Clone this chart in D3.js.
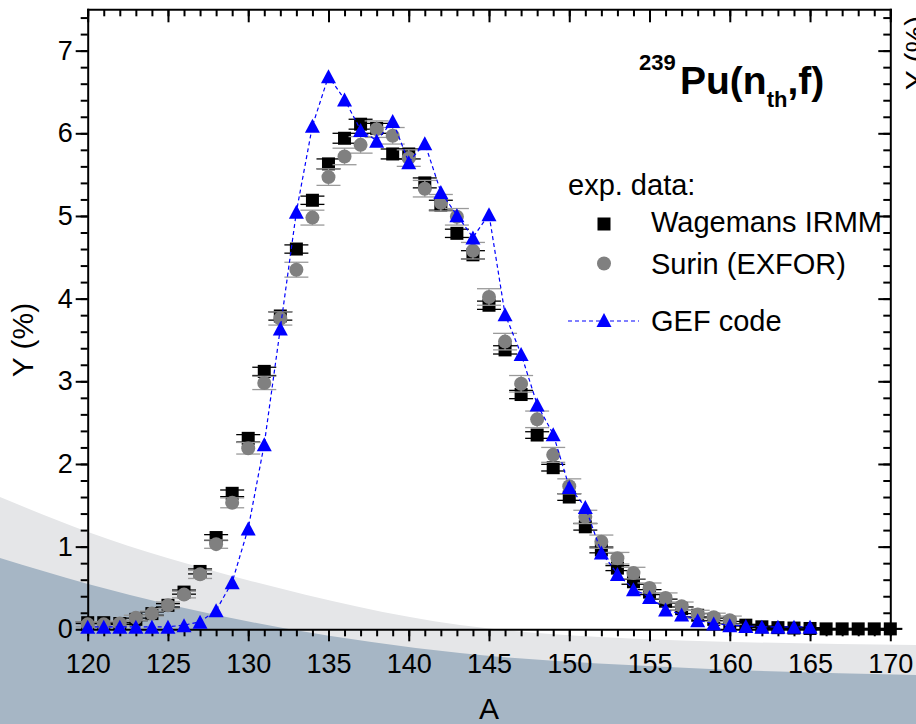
<!DOCTYPE html>
<html>
<head>
<meta charset="utf-8">
<script src="https://cdn.jsdelivr.net/npm/d3@7"></script>
<style>
  body { margin: 0; background: #fff; }
  svg { display: block; font-family: "Liberation Sans", Arial, Helvetica, sans-serif; }
</style>
</head>
<body>
<svg id="chart" width="916" height="724"></svg>
<script>
// Fission fragment mass yields, 239Pu(n_th,f)
const massNumbers = [120,121,122,123,124,125,126,127,128,129,130,131,132,133,134,135,136,137,138,139,140,
                     141,142,143,144,145,146,147,148,149,150,151,152,153,154,155,156,157,158,159,160,
                     161,162,163,164,165,166,167,168,169,170];

// Wagemans IRMM (A = 120..170)
const wagemans = [0.08,0.08,0.07,0.12,0.19,0.29,0.45,0.70,1.11,1.645,2.31,3.12,3.79,4.60,5.19,5.63,5.94,6.11,6.06,5.75,5.75,
                  5.40,5.13,4.79,4.53,3.92,3.38,2.84,2.35,1.955,1.60,1.24,0.96,0.74,0.575,0.45,0.34,0.25,0.17,0.12,0.08,
                  0.05,0.03,0.02,0.015,0.01,0.005,0.005,0.005,0.005,0.005];
const wagemansErr = [0.01,0.01,0.01,0.015,0.02,0.02,0.025,0.03,0.035,0.04,0.045,0.05,0.05,0.05,0.05,0.06,0.06,0.06,0.06,0.06,0.06,
                     0.06,0.06,0.05,0.05,0.05,0.05,0.05,0.04,0.04,0.04,0.04,0.035,0.03,0.03,0.03,0.025,0.02,0.02,0.015,0.015,
                     0.01,0.01,0.01,0.01,0.01,0.005,0.005,0.005,0.005,0.005];

// Surin (EXFOR) (A = 120..160)
const surin = [0.06,0.06,0.07,0.14,0.19,0.29,0.42,0.665,1.03,1.53,2.19,2.98,3.76,4.35,4.98,5.47,5.72,5.86,6.05,5.97,5.70,
               5.33,5.16,4.99,4.58,4.02,3.48,2.97,2.54,2.11,1.73,1.36,1.06,0.86,0.68,0.50,0.38,0.28,0.18,0.145,0.11];
const surinErr = [0.03,0.03,0.03,0.03,0.03,0.04,0.04,0.05,0.05,0.06,0.07,0.08,0.08,0.09,0.09,0.10,0.10,0.10,0.10,0.10,0.10,
                  0.10,0.10,0.10,0.10,0.10,0.10,0.10,0.10,0.09,0.09,0.08,0.08,0.07,0.07,0.06,0.06,0.05,0.05,0.05,0.05];

// GEF code (A = 120..165)
const gef = [0.03,0.03,0.03,0.03,0.03,0.03,0.05,0.09,0.23,0.57,1.22,2.24,3.64,5.05,6.09,6.69,6.41,6.04,5.91,6.15,5.65,
             5.88,5.29,5.01,4.74,5.02,3.81,3.33,2.72,2.36,1.72,1.48,0.93,0.67,0.485,0.39,0.24,0.18,0.11,0.07,0.05,
             0.04,0.03,0.03,0.03,0.03];

const xTicks = [120,125,130,135,140,145,150,155,160,165,170];
const yTicks = [0,1,2,3,4,5,6,7];
const legendTitle = "exp. data:";
const legendLabels = ["Wagemans IRMM", "Surin (EXFOR)", "GEF code"];

const W = 916, H = 724;
const margin = { top: 9.3, right: 25.7, bottom: 94.7, left: 87.7 };
const x = d3.scaleLinear().domain([120, 170]).range([margin.left, W - margin.right]);
const y = d3.scaleLinear().domain([0, 7.5]).range([H - margin.bottom, margin.top]);
const svg = d3.select("#chart");

// decorative swoosh behind the lower part of the chart
const swoosh = d3.line().curve(d3.curveMonotoneX);
const lightEdge = [[0,497],[88,532],[247,580],[460,625],[600,637],[916,645]];
const darkEdge  = [[0,558],[88,584],[283,628],[460,653],[689,668],[916,675]];
svg.append("path").attr("d", swoosh(lightEdge) + `L${W},${H}L0,${H}Z`).attr("fill", "#e5e6e8");
svg.append("path").attr("d", swoosh(darkEdge) + `L${W},${H}L0,${H}Z`).attr("fill", "#a6b6c5");

// axes: major + minor ticks on all four sides
const minorX = d3.range(120, 171, 1);
const minorY = d3.range(0, 7.51, 0.2);
function styleAxis(g, keepDomain) {
  g.selectAll("line").attr("stroke", "#000").attr("stroke-width", 2);
  g.select(".domain").attr("stroke", keepDomain ? "#000" : "none").attr("stroke-width", 2).attr("stroke-linecap", "square");
  g.selectAll("text").attr("font-size", 27).attr("fill", "#000").attr("font-family", '"Liberation Sans", Arial, sans-serif');
}
const yBase = y(0), yTop = y(7.5), xLeft = x(120), xRight = x(170);

svg.append("g").attr("transform", `translate(0,${yBase})`)
  .call(d3.axisBottom(x).tickValues(minorX).tickSize(7).tickSizeOuter(0).tickFormat(""))
  .call(g => styleAxis(g, false));
svg.append("g").attr("transform", `translate(0,${yBase})`)
  .call(d3.axisBottom(x).tickValues(xTicks).tickSize(12).tickSizeOuter(0).tickPadding(13).tickFormat(d3.format("d")))
  .call(g => styleAxis(g, true));

svg.append("g").attr("transform", `translate(0,${yTop})`)
  .call(d3.axisBottom(x).tickValues(minorX).tickSize(7).tickSizeOuter(0).tickFormat(""))
  .call(g => styleAxis(g, false));
svg.append("g").attr("transform", `translate(0,${yTop})`)
  .call(d3.axisBottom(x).tickValues(xTicks).tickSize(13).tickSizeOuter(0).tickFormat(""))
  .call(g => styleAxis(g, true));

svg.append("g").attr("transform", `translate(${xLeft},0)`)
  .call(d3.axisLeft(y).tickValues(minorY).tickSize(7).tickSizeOuter(0).tickFormat(""))
  .call(g => styleAxis(g, false));
svg.append("g").attr("transform", `translate(${xLeft},0)`)
  .call(d3.axisLeft(y).tickValues(yTicks).tickSize(12).tickSizeOuter(0).tickPadding(3).tickFormat(d3.format("d")))
  .call(g => styleAxis(g, true));

svg.append("g").attr("transform", `translate(${xRight},0)`)
  .call(d3.axisLeft(y).tickValues(minorY).tickSize(7).tickSizeOuter(0).tickFormat(""))
  .call(g => styleAxis(g, false));
svg.append("g").attr("transform", `translate(${xRight},0)`)
  .call(d3.axisLeft(y).tickValues(yTicks).tickSize(12).tickSizeOuter(0).tickFormat(""))
  .call(g => styleAxis(g, true));

// axis titles
svg.append("text").attr("x", (xLeft + xRight) / 2).attr("y", 719).attr("text-anchor", "middle")
  .attr("font-size", 30).text("A");
svg.append("text").attr("transform", `translate(33,${y(3.5)}) rotate(-90)`).attr("text-anchor", "middle")
  .attr("font-size", 30).text("Y (%)");
// neighbouring panel's axis title, running off the right edge
svg.append("text").attr("transform", "translate(926,53) rotate(-90)").attr("text-anchor", "middle")
  .attr("font-size", 30).text("Y (%)");

// reaction label
const title = svg.append("g").attr("font-weight", "bold").attr("fill", "#000");
title.append("text").attr("x", 639).attr("y", 70).attr("font-size", 22).text("239");
const main = title.append("text").attr("x", 680).attr("y", 94).attr("font-size", 39);
main.append("tspan").text("Pu(n");
main.append("tspan").attr("font-size", 22).attr("dy", 12.7).text("th");
main.append("tspan").attr("dy", -12.7).text(",f)");

// error bars
function errorBars(vals, errs, color, width) {
  const g = svg.append("g").attr("stroke", color).attr("stroke-width", width).attr("fill", "none");
  vals.forEach((v, i) => {
    const cx = x(massNumbers[i]), y1 = y(v - errs[i]), y2 = y(v + errs[i]);
    g.append("line").attr("x1", cx).attr("x2", cx).attr("y1", y1).attr("y2", y2);
    g.append("line").attr("x1", cx - 12).attr("x2", cx + 12).attr("y1", y1).attr("y2", y1);
    g.append("line").attr("x1", cx - 12).attr("x2", cx + 12).attr("y1", y2).attr("y2", y2);
  });
}

errorBars(wagemans, wagemansErr, "#000", 1.3);
svg.append("g").selectAll("rect").data(wagemans).join("rect")
  .attr("x", (d, i) => x(massNumbers[i]) - 6.5).attr("y", d => y(d) - 6.5)
  .attr("width", 13).attr("height", 13).attr("fill", "#000");

errorBars(surin, surinErr, "#9a9a9a", 1.3);
svg.append("g").selectAll("circle").data(surin).join("circle")
  .attr("cx", (d, i) => x(massNumbers[i])).attr("cy", d => y(d)).attr("r", 7).attr("fill", "#808080");

const tri = "M0,-7L7.5,7L-7.5,7Z";
svg.append("path").datum(gef)
  .attr("d", d3.line().x((d, i) => x(massNumbers[i])).y(d => y(d)))
  .attr("fill", "none").attr("stroke", "#0000ff").attr("stroke-width", 1.2).attr("stroke-dasharray", "4,3");
svg.append("g").selectAll("path").data(gef).join("path")
  .attr("transform", (d, i) => `translate(${x(massNumbers[i])},${y(d)})`)
  .attr("d", tri).attr("fill", "#0000ff");

// legend
const leg = svg.append("g").attr("font-size", 29).attr("fill", "#000");
leg.append("text").attr("x", 568).attr("y", 195).text(legendTitle);
leg.append("rect").attr("x", 604 - 6.5).attr("y", 224 - 6.5).attr("width", 13).attr("height", 13).attr("fill", "#000");
leg.append("text").attr("x", 651).attr("y", 232).text(legendLabels[0]);
leg.append("circle").attr("cx", 604).attr("cy", 263.5).attr("r", 7).attr("fill", "#808080");
leg.append("text").attr("x", 651).attr("y", 274).text(legendLabels[1]);
leg.append("line").attr("x1", 568).attr("x2", 639).attr("y1", 321).attr("y2", 321)
  .attr("stroke", "#0000ff").attr("stroke-width", 1.2).attr("stroke-dasharray", "4,3");
leg.append("path").attr("transform", "translate(604,320)").attr("d", tri).attr("fill", "#0000ff");
leg.append("text").attr("x", 651).attr("y", 331).text(legendLabels[2]);
</script>
</body>
</html>
